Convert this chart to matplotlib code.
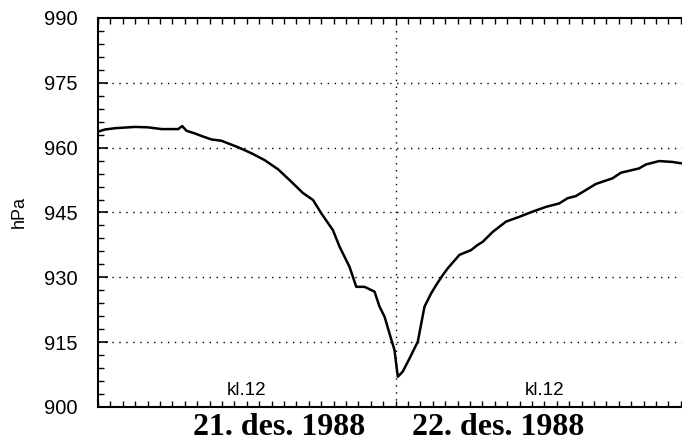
import numpy as np
import matplotlib
matplotlib.use('Agg')
import matplotlib.pyplot as plt
from matplotlib.ticker import MultipleLocator

# timer fra 21. des. kl. 00
hours = [0.0, 0.56, 1.37, 2.98, 4.05, 5.13, 6.47, 6.79, 7.14, 7.81,
         8.35, 9.15, 9.96, 10.49, 11.30, 12.38, 13.45, 14.52, 15.60, 16.53,
         17.34, 18.01, 18.95, 19.48, 20.29, 20.83, 21.50, 22.30, 22.71, 23.11,
         23.51, 23.91, 24.18, 24.58, 25.12, 25.79, 26.33, 26.87, 27.27, 27.80,
         28.21, 29.15, 30.09, 30.62, 31.02, 31.83, 32.91, 33.98, 35.05, 36.13,
         37.20, 37.87, 38.54, 39.35, 40.15, 41.49, 42.17, 43.64, 44.18, 45.25,
         46.32, 47.00]
pressure = [963.7, 964.2, 964.5, 964.8, 964.7, 964.3, 964.3, 965.0, 963.9, 963.3,
            962.7, 961.9, 961.6, 961.0, 960.1, 958.7, 957.1, 955.0, 952.1, 949.5,
            947.9, 944.8, 940.9, 937.1, 932.4, 927.8, 927.8, 926.7, 923.2, 920.9,
            917.0, 913.2, 907.0, 908.2, 911.2, 915.1, 923.2, 926.3, 928.2, 930.5,
            932.1, 935.2, 936.3, 937.5, 938.2, 940.5, 942.9, 944.0, 945.2, 946.3,
            947.1, 948.3, 948.8, 950.2, 951.6, 952.9, 954.2, 955.2, 956.1, 956.9,
            956.7, 956.4]

y_ticks = [900, 915, 930, 945, 960, 975, 990]
day_labels = ['21. des. 1988', '22. des. 1988']
day_label_pos = [14.6, 32.3]
noon_label = 'kl.12'
noon_pos = [12, 36]

fig = plt.figure(figsize=(6.82, 4.41), dpi=100)
ax = fig.add_axes([98 / 682, 1 - 407 / 441, 1 - 98 / 682, 389 / 441])

ax.plot(hours, pressure, color='black', lw=1.8)

ax.set_xlim(0, 47.1)
ax.set_ylim(900, 990)

# prikkete hjelpelinjer
for y in y_ticks[1:-1]:
    ax.axhline(y, color='black', lw=1, ls=(0, (1, 4)))
ax.axvline(24, color='black', lw=1, ls=(0, (1, 4)))

ax.set_yticks(y_ticks)
ax.set_yticklabels([str(v) for v in y_ticks], family='Liberation Sans', fontsize=14.5)
ax.yaxis.set_minor_locator(MultipleLocator(3))
ax.tick_params(axis='y', which='major', direction='in', length=7, width=1.2, pad=15)
ax.tick_params(axis='y', which='minor', direction='in', length=4, width=1)

ax.set_xticks([])
ax.xaxis.set_minor_locator(MultipleLocator(1))
ax.tick_params(axis='x', which='minor', direction='in', length=4, width=1,
               top=True, bottom=True)

ax.spines['right'].set_visible(False)
for s in ['left', 'top', 'bottom']:
    ax.spines[s].set_linewidth(1.5)

ax.set_ylabel('hPa', family='Liberation Sans', fontsize=13)
ax.yaxis.set_label_coords(-70 / 584, 0.5)

for x in noon_pos:
    ax.text(x, 901.8, noon_label, ha='center', va='bottom',
            family='Liberation Sans', fontsize=13.5)

trans = ax.get_xaxis_transform()
for x, lab in zip(day_label_pos, day_labels):
    ax.text(x, -0.052, lab, transform=trans, ha='center', va='center',
            family='Liberation Serif', fontweight='bold', fontsize=23)

fig.savefig('out.png', dpi=100)
